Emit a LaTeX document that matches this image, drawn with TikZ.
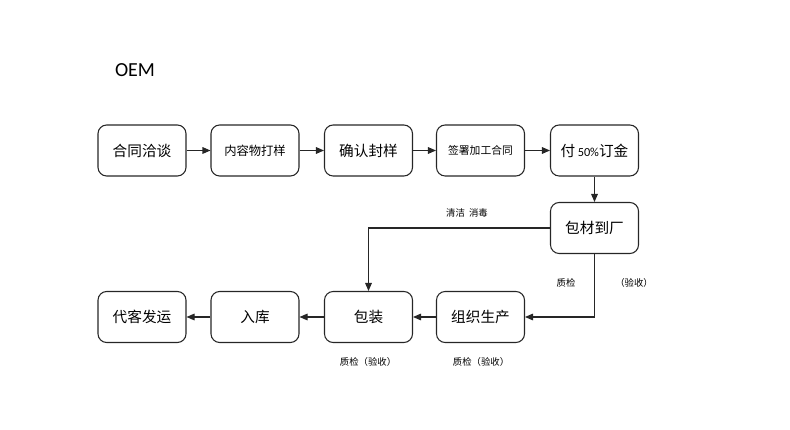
\documentclass[tikz,border=0pt]{standalone}
\usepackage{fontspec}
\setmainfont{Noto Sans CJK SC}
\newfontfamily\latinfont{Carlito}
\usetikzlibrary{arrows.meta, positioning}
\definecolor{boxLine}{HTML}{262626}
\tikzset{
  stepbox/.style  = {draw=boxLine, line width=0.9pt, rounded corners=2.6mm,
                     minimum width=2.64cm, minimum height=1.53cm, inner sep=1pt,
                     font=\fontsize{12.5}{14}\selectfont},
  flow/.style     = {-{Triangle[length=2.4mm, width=2mm]}, line width=0.9pt, boxLine},
  lbl/.style      = {font=\fontsize{8}{10}\selectfont},
}
\begin{document}
\begin{tikzpicture}[x=0.03cm, y=-0.03cm]
  \useasboundingbox (0,0) rectangle (790,430);

  \node[font=\latinfont\fontsize{17}{20}\selectfont] (title) at (135,70) {OEM};

  % top row
  \node[stepbox] (talk)    at (142,150.5)   {合同洽谈};
  \node[stepbox, font=\fontsize{10.5}{12}\selectfont] (sample) at (255,150.5) {内容物打样};
  \node[stepbox] (confirm) at (368.5,150.5) {确认封样};
  \node[stepbox, font=\fontsize{9.2}{11}\selectfont] (contract) at (480.5,150.5) {签署加工合同};
  \node[stepbox] (deposit) at (594.5,150.5) {付\,{\latinfont\fontsize{10.5}{12}\selectfont 50\%}订金};

  % material arrival
  \node[stepbox] (material) at (594.5,228) {包材到厂};

  % bottom row
  \node[stepbox] (ship)    at (142,317)   {代客发运};
  \node[stepbox] (store)   at (255,317)   {入库};
  \node[stepbox] (pack)    at (368.5,317) {包装};
  \node[stepbox] (produce) at (480.5,317) {组织生产};

  \draw[flow] (talk) -- (sample);
  \draw[flow] (sample) -- (confirm);
  \draw[flow] (confirm) -- (contract);
  \draw[flow] (contract) -- (deposit);
  \draw[flow] (deposit) -- (material);
  \draw[flow] (material.south) |- (produce.east);
  \draw[flow] (material.west) -| (pack.north);
  \draw[flow] (produce) -- (pack);
  \draw[flow] (pack) -- (store);
  \draw[flow] (store) -- (ship);

  \node[lbl] (clean) at (467,213) {清洁\ \ 消毒};
  \node[lbl] (qc1)   at (566,283) {质检};
  \node[lbl] (acc1)  at (634,283) {（验收）};
  \node[lbl] (qc2)   at (368,362) {质检（验收）};
  \node[lbl] (qc3)   at (481,362) {质检（验收）};
\end{tikzpicture}
\end{document}
